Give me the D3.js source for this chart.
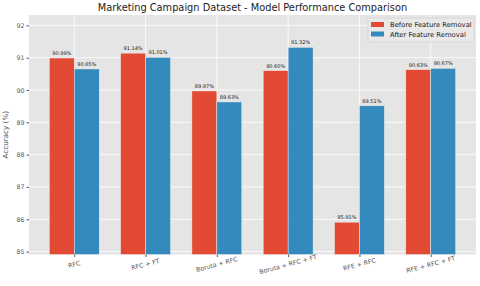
<!DOCTYPE html>
<html>
<head>
<meta charset="utf-8">
<script src="https://cdn.jsdelivr.net/npm/d3@7"></script>
<style>
  body { margin: 0; background: #fff; }
  text { font-family: "DejaVu Sans", sans-serif; }
</style>
</head>
<body>
<svg id="chart" width="480" height="286"></svg>
<script>
"use strict";

// data
const models = ["RFC", "RFC + FT", "Boruta + RFC", "Boruta + RFC + FT", "RFE + RFC", "RFE + RFC + FT"];
const before = [90.99, 91.14, 89.97, 90.60, 85.91, 90.63];
const after = [90.65, 91.01, 89.63, 91.32, 89.51, 90.67];
const seriesNames = ["Before Feature Removal", "After Feature Removal"];
const yTicks = [85, 86, 87, 88, 89, 90, 91, 92];

const colors = ["#E24A33", "#348ABD"];
const W = 480, H = 286;
const m = { left: 29, top: 15, right: 4, bottom: 31.5 };
const barW = 0.35;

const svg = d3.select("#chart");

// bars are placed on a numeric index scale, like matplotlib
const lo = -barW, hi = models.length - 1 + barW;
const pad = (hi - lo) * 0.05;
const x = d3.scaleLinear()
  .domain([lo - pad, hi + pad])
  .range([m.left, W - m.right]);

const allVals = before.concat(after);
const y = d3.scaleLinear()
  .domain([d3.min(allVals) - 1, d3.max(allVals) + 1])
  .range([H - m.bottom, m.top]);

// background
svg.append("rect")
  .attr("x", m.left).attr("y", m.top)
  .attr("width", W - m.left - m.right)
  .attr("height", H - m.top - m.bottom)
  .attr("fill", "#E5E5E5");

// grid
let grid = svg.append("g");
grid.selectAll("line.h")
  .data(yTicks)
  .enter()
  .append("line")
  .attr("x1", m.left).attr("x2", W - m.right)
  .attr("y1", d => y(d)).attr("y2", d => y(d))
  .attr("stroke", "#fff").attr("stroke-width", 0.8);
grid.selectAll("line.v")
  .data(models)
  .enter()
  .append("line")
  .attr("x1", (d, i) => x(i)).attr("x2", (d, i) => x(i))
  .attr("y1", m.top).attr("y2", H - m.bottom)
  .attr("stroke", "#fff").attr("stroke-width", 0.8);

// bars
const series = [before, after];
series.forEach((vals, s) => {
  let g = svg.append("g");
  g.selectAll("rect")
    .data(vals)
    .enter()
    .append("rect")
    .attr("x", (d, i) => x(i + (s - 1) * barW))
    .attr("width", x(barW) - x(0))
    .attr("y", d => y(d))
    .attr("height", d => (H - m.bottom) - y(d))
    .attr("fill", colors[s])
    .attr("stroke", "#EEEEEE")
    .attr("stroke-width", 0.5);

  g.selectAll("text")
    .data(vals)
    .enter()
    .append("text")
    .attr("x", (d, i) => x(i + (s - 0.5) * barW))
    .attr("y", d => y(d) - 3)
    .attr("text-anchor", "middle")
    .attr("font-size", "5px")
    .attr("fill", "#222")
    .text(d => d.toFixed(2) + "%");
});

// y axis
const yAxis = svg.append("g")
  .attr("transform", `translate(${m.left},0)`)
  .call(d3.axisLeft(y).tickValues(yTicks).tickSize(2.5).tickPadding(2).tickFormat(d3.format("d")));
yAxis.select(".domain").remove();
yAxis.selectAll("line").attr("stroke", "#555");
yAxis.selectAll("text").attr("fill", "#555").attr("font-size", "6.3px")
  .attr("font-family", "DejaVu Sans, sans-serif");

// x axis
const xAxis = svg.append("g")
  .attr("transform", `translate(0,${H - m.bottom})`)
  .call(d3.axisBottom(x).tickValues(d3.range(models.length)).tickSize(2.5).tickFormat(i => models[i]));
xAxis.select(".domain").remove();
xAxis.selectAll("line").attr("stroke", "#555");
xAxis.selectAll("text")
  .attr("fill", "#555").attr("font-size", "6.3px")
  .attr("font-family", "DejaVu Sans, sans-serif")
  .attr("text-anchor", "middle")
  .attr("y", 0).attr("dy", "0")
  .attr("transform", "translate(0,12) rotate(-15)");

// title and axis label
svg.append("text")
  .attr("x", m.left + (W - m.left - m.right) / 2)
  .attr("y", 11)
  .attr("text-anchor", "middle")
  .attr("font-size", "9.8px")
  .attr("fill", "#222")
  .text("Marketing Campaign Dataset - Model Performance Comparison");

svg.append("text")
  .attr("transform", `translate(8,${(m.top + H - m.bottom) / 2}) rotate(-90)`)
  .attr("text-anchor", "middle")
  .attr("font-size", "7.2px")
  .attr("fill", "#555")
  .text("Accuracy (%)");

// legend
let legend = svg.append("g").attr("transform", "translate(368,18)");
legend.append("rect")
  .attr("width", 106).attr("height", 24).attr("rx", 1.5)
  .attr("fill", "#E9E9E9").attr("stroke", "#CCCCCC").attr("stroke-width", 0.6);
seriesNames.forEach((name, i) => {
  legend.append("rect")
    .attr("x", 3).attr("y", 4 + i * 9.5)
    .attr("width", 13).attr("height", 5)
    .attr("fill", colors[i]);
  legend.append("text")
    .attr("x", 22).attr("y", 9.2 + i * 9.5)
    .attr("font-size", "6.8px")
    .attr("fill", "#222")
    .text(name);
});
</script>
</body>
</html>
